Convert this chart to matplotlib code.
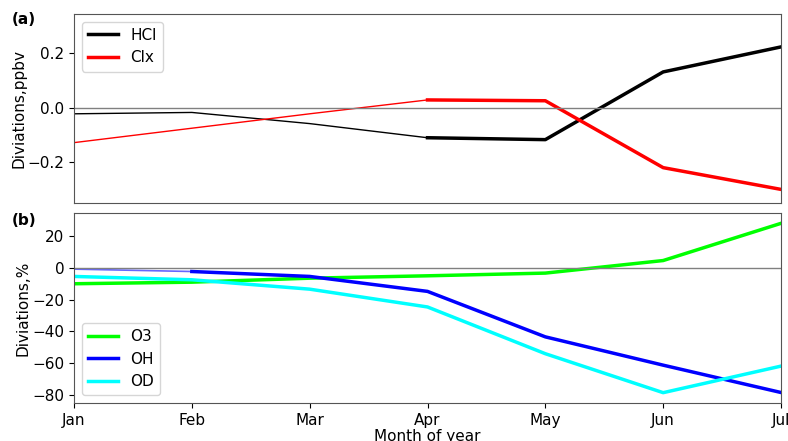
import numpy as np
import matplotlib.pyplot as plt

months = ['Jan', 'Feb', 'Mar', 'Apr', 'May', 'Jun', 'Jul']
hcl = [-0.022, -0.017, -0.058, -0.110, -0.117, 0.132, 0.224]
clx = [-0.128, -0.075, -0.022, 0.029, 0.026, -0.220, -0.300]
o3 = [-10.0, -9.0, -6.5, -5.0, -3.3, 4.6, 28.0]
oh = [-0.8, -2.3, -5.4, -14.8, -43.4, -61.2, -78.4]
od = [-5.4, -7.5, -13.4, -24.6, -54.0, -78.5, -61.8]

x = np.arange(len(months))
fs = 11

fig = plt.figure(figsize=(7.88, 4.41), dpi=100)
ax1 = fig.add_axes([74/788, 1-203/441, 707/788, 189/441])
ax2 = fig.add_axes([74/788, 1-403/441, 707/788, 190/441], sharex=ax1)

# (a) thin before Apr, thick after
ax1.plot(x[:4], hcl[:4], color='black', lw=1)
ax1.plot(x[3:], hcl[3:], color='black', lw=2.5, label='HCl')
ax1.plot(x[:4], clx[:4], color='red', lw=1)
ax1.plot(x[3:], clx[3:], color='red', lw=2.5, label='Clx')
ax1.axhline(0, color='gray', lw=1)
ax1.set_ylim(-0.35, 0.345)
ax1.set_yticks([-0.2, 0.0, 0.2])
ax1.set_ylabel('Diviations,ppbv', fontsize=fs, labelpad=1)
ax1.tick_params(axis='x', bottom=False, labelbottom=False)
ax1.legend(loc='upper left', fontsize=fs)

# (b)
ax2.plot(x, o3, color='lime', lw=2.5, label='O3')
ax2.plot(x[:2], oh[:2], color='blue', lw=1.2, alpha=0.6)
ax2.plot(x[1:], oh[1:], color='blue', lw=2.5, label='OH')
ax2.plot(x, od, color='cyan', lw=2.5, label='OD')
ax2.axhline(0, color='gray', lw=1)
ax2.set_ylim(-85, 34.5)
ax2.set_yticks([-80, -60, -40, -20, 0, 20])
ax2.set_xlim(0, 6)
ax2.set_xticks(x)
ax2.set_xticklabels(months)
ax2.set_ylabel('Diviations,%', fontsize=fs, labelpad=1)
ax2.set_xlabel('Month of year', fontsize=fs, labelpad=1)
ax2.legend(loc='lower left', fontsize=fs)

for ax in (ax1, ax2):
    for s in ax.spines.values():
        s.set_color('#555555')
    ax.tick_params(labelsize=fs)

fig.text(12/788, 1-20/441, '(a)', fontweight='bold', fontsize=fs, va='center')
fig.text(12/788, 1-220/441, '(b)', fontweight='bold', fontsize=fs, va='center')

fig.savefig('out.png', dpi=100)
